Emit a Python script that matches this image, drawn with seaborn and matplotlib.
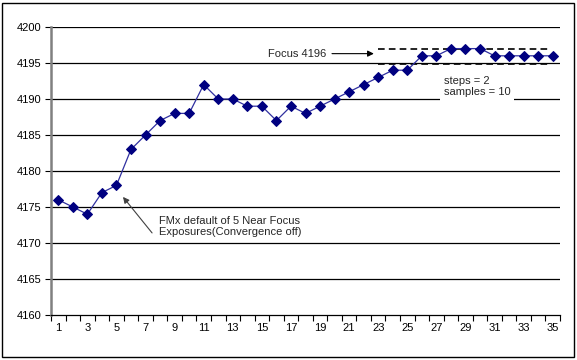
import matplotlib
matplotlib.use("Agg")
import matplotlib.pyplot as plt
import seaborn as sns
import pandas as pd
import numpy as np
from matplotlib.patches import Rectangle

steps = list(range(1, 36))
focus = [4176, 4175, 4174, 4177, 4178, 4183, 4185, 4187, 4188, 4188,
         4192, 4190, 4190, 4189, 4189, 4187, 4189, 4188, 4189, 4190,
         4191, 4192, 4193, 4194, 4194, 4196, 4196, 4197, 4197, 4197,
         4196, 4196, 4196, 4196, 4196]
yticks = list(range(4160, 4201, 5))
xticklabels = list(range(1, 36, 2))

df = pd.DataFrame({"step": steps, "focus": focus})

sns.set_theme(style="white")
plt.rcParams['font.family'] = ['Liberation Sans', 'DejaVu Sans']

fig = plt.figure(figsize=(5.77, 3.6), dpi=100)
ax = fig.add_axes([51/577, 45/360, 509/577, 288/360])

sns.lineplot(data=df, x="step", y="focus", ax=ax, color="#3030a0", linewidth=0.9,
             marker="D", markersize=4.6, markerfacecolor="#000080",
             markeredgecolor="#000080", zorder=3)

ax.set_xlim(0.5, 35.5)
ax.set_ylim(4160, 4200)
ax.set_yticks(yticks)
ax.set_yticklabels([str(v) for v in yticks], fontsize=8)
ax.set_xticks(xticklabels)
ax.set_xticklabels([str(v) for v in xticklabels], fontsize=8)
ax.set_xticks(np.arange(0.5, 36, 1), minor=True)
ax.tick_params(axis="x", which="major", length=0, pad=6, colors="black")
ax.tick_params(axis="x", which="minor", length=4, width=0.8, direction="out", colors="black", bottom=True)
ax.tick_params(axis="y", which="major", length=4, width=0.8, direction="out", colors="black", left=True, pad=3)
ax.set_xlabel("")
ax.set_ylabel("")

for v in yticks[1:]:
    ax.axhline(v, color="black", linewidth=0.9, zorder=1)

for s in ["top", "right"]:
    ax.spines[s].set_visible(False)
ax.spines["bottom"].set_color("black")
ax.spines["bottom"].set_linewidth(0.9)
ax.spines["left"].set_color("#808080")
ax.spines["left"].set_linewidth(1.8)

# dashed focus band
ax.plot([23.0, 34.8], [4197, 4197], color="black", linestyle=(0, (4, 2.5)), linewidth=1.2, zorder=2)
ax.plot([23.0, 34.8], [4194.85, 4194.85], color="black", linestyle=(0, (4, 2.5)), linewidth=1.2, zorder=2)

ax.annotate("Focus 4196", xy=(22.7, 4196.3), xytext=(15.4, 4196.3),
            fontsize=8, va="center", ha="left",
            arrowprops=dict(arrowstyle="-|>", color="black", lw=0.8,
                            shrinkA=2, shrinkB=0, mutation_scale=9))
ax.annotate("", xy=(5.45, 4176.4), xytext=(7.45, 4171.4),
            arrowprops=dict(arrowstyle="-|>", color="#404040", lw=0.8,
                            shrinkA=0, shrinkB=0, mutation_scale=9))
ax.text(7.95, 4172.3, "FMx default of 5 Near Focus\nExposures(Convergence off)",
        fontsize=8, va="center", ha="left", linespacing=1.15)
ax.text(27.5, 4191.7, "steps = 2\nsamples = 10", fontsize=8, va="center", ha="left",
        linespacing=1.15, zorder=4,
        bbox=dict(facecolor="white", edgecolor="none", pad=2.5))

fig.patches.append(Rectangle((2/577, 3/360), 572/577, 354/360, transform=fig.transFigure,
                             fill=False, edgecolor="black", linewidth=1.0))

fig.savefig("out.png", dpi=100)
